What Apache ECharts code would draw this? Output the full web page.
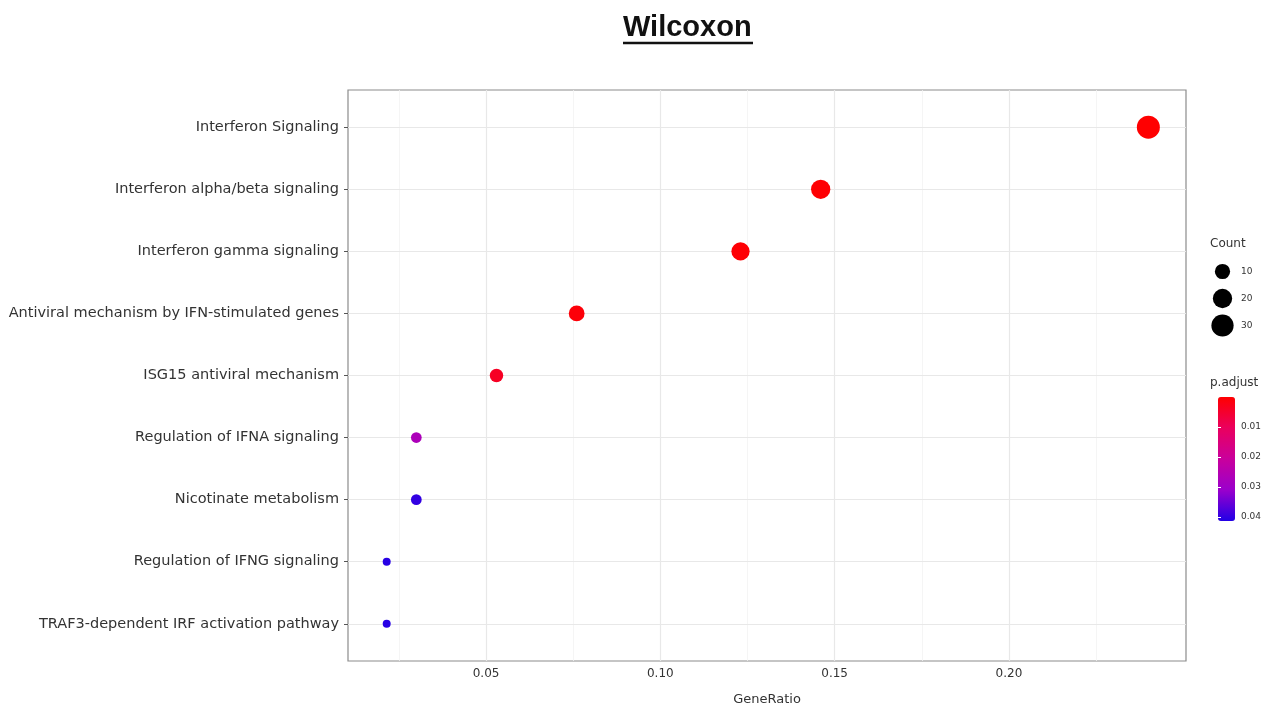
<!DOCTYPE html>
<html>
<head>
<meta charset="utf-8">
<title>Wilcoxon</title>
<script src="https://cdn.jsdelivr.net/npm/echarts@6/dist/echarts.min.js"></script>
<style>
  html, body { margin: 0; padding: 0; background: #fff; }
  #chart { width: 1275px; height: 707px; }
</style>
</head>
<body>
<div id="chart"></div>
<script>
// pathways, top to bottom
const categories = [
  'Interferon Signaling',
  'Interferon alpha/beta signaling',
  'Interferon gamma signaling',
  'Antiviral mechanism by IFN-stimulated genes',
  'ISG15 antiviral mechanism',
  'Regulation of IFNA signaling',
  'Nicotinate metabolism',
  'Regulation of IFNG signaling',
  'TRAF3-dependent IRF activation pathway'
];
const geneRatio = [0.240, 0.146, 0.123, 0.076, 0.053, 0.030, 0.030, 0.0215, 0.0215];
const counts = [33, 20, 17, 11, 7, 4, 4, 3, 3];
const pAdjust = [0.0001, 0.0003, 0.0005, 0.001, 0.004, 0.027, 0.040, 0.041, 0.041];

const xMajor = [0.05, 0.10, 0.15, 0.20];
const xMinor = [0.025, 0.075, 0.125, 0.175, 0.225];
const sizeBreaks = [10, 20, 30];
const colorBreaks = [0.01, 0.02, 0.03, 0.04];

const X_MIN = 0.0104, X_MAX = 0.2508;
const P_MIN = 0, P_MAX = 0.0414;
const TEXT = '#333';

// ggplot-like area scale: diameter grows with sqrt of rescaled count
const cMin = Math.min(...counts), cMax = Math.max(...counts);
function sizeOf(c) {
  const t = Math.max(0, (c - cMin) / (cMax - cMin));
  return 8 + 15 * Math.sqrt(t);
}

const points = geneRatio.map((r, i) => [r, i, counts[i], pAdjust[i]]);

const gridLines = [].concat(
  xMinor.map(v => ({ xAxis: v, lineStyle: { color: '#f3f3f3', width: 0.8, type: 'solid' } })),
  xMajor.map(v => ({ xAxis: v, lineStyle: { color: '#e8e8e8', width: 1.2, type: 'solid' } })),
  categories.map((c, i) => ({ yAxis: i, lineStyle: { color: '#e8e8e8', width: 1.2, type: 'solid' } }))
);

const chart = echarts.init(document.getElementById('chart'));
chart.setOption({
  animation: false,
  backgroundColor: '#fff',
  textStyle: { fontFamily: 'DejaVu Sans' },
  title: [
    {
      text: 'Wilcoxon', left: 623, top: 13, padding: 0,
      textStyle: { fontFamily: 'Liberation Sans', fontWeight: 'bold', fontSize: 29, color: '#111' }
    },
    { text: 'Count', left: 1210, top: 238, padding: 0,
      textStyle: { fontWeight: 'normal', fontSize: 12, color: TEXT } },
    { text: 'p.adjust', left: 1210, top: 377, padding: 0,
      textStyle: { fontWeight: 'normal', fontSize: 12, color: TEXT } }
  ],
  graphic: [
    { type: 'line', shape: { x1: 623, y1: 43, x2: 753, y2: 43 }, style: { stroke: '#111', lineWidth: 2.5 } }
  ],
  grid: [
    { left: 348, right: 89, top: 90, bottom: 46, show: true, backgroundColor: '#fff',
      borderColor: '#8c8c8c', borderWidth: 1.2, outerBoundsMode: 'none', containLabel: false },
    { left: 1210, top: 258, width: 25, height: 81, outerBoundsMode: 'none', containLabel: false },
    { left: 1218, top: 397, width: 17, height: 124, outerBoundsMode: 'none', containLabel: false }
  ],
  xAxis: [
    {
      gridIndex: 0, type: 'value', min: X_MIN, max: X_MAX,
      name: 'GeneRatio', nameLocation: 'middle', nameGap: 32,
      nameTextStyle: { fontSize: 13, color: TEXT },
      axisLine: { show: false },
      axisTick: { show: true, length: 4, customValues: xMajor, lineStyle: { color: '#555' } },
      axisLabel: { customValues: xMajor, margin: 7, fontSize: 12, color: TEXT,
        formatter: v => v.toFixed(2) },
      splitLine: { show: false }
    },
    { gridIndex: 1, type: 'value', min: -1, max: 1, show: false },
    { gridIndex: 2, type: 'value', min: 0, max: 1, show: false }
  ],
  yAxis: [
    {
      gridIndex: 0, type: 'value', min: -0.6, max: categories.length - 0.4, inverse: true,
      axisLine: { show: false },
      axisTick: { show: true, length: 4, customValues: categories.map((c, i) => i), lineStyle: { color: '#555' } },
      axisLabel: { customValues: categories.map((c, i) => i), margin: 9, fontSize: 14.5, color: TEXT,
        formatter: v => categories[Math.round(v)] },
      splitLine: { show: false }
    },
    {
      gridIndex: 1, type: 'category', data: sizeBreaks.map(String), inverse: true, position: 'right',
      axisLine: { show: false }, axisTick: { show: false },
      axisLabel: { margin: 6, fontSize: 9, color: TEXT }
    },
    {
      gridIndex: 2, type: 'value', min: P_MIN, max: P_MAX, inverse: true, position: 'right', z: 10,
      axisLine: { show: false },
      axisTick: { show: true, inside: true, length: 3, customValues: colorBreaks, lineStyle: { color: '#fff', width: 1 } },
      axisLabel: { customValues: colorBreaks, margin: 6, fontSize: 9, color: TEXT, formatter: v => v.toFixed(2) },
      splitLine: { show: false }
    },
    {
      gridIndex: 2, type: 'value', min: P_MIN, max: P_MAX, inverse: true, position: 'left', z: 10,
      axisLine: { show: false },
      axisTick: { show: true, inside: true, length: 3, customValues: colorBreaks, lineStyle: { color: '#fff', width: 1 } },
      axisLabel: { show: false },
      splitLine: { show: false }
    }
  ],
  visualMap: {
    type: 'continuous', seriesIndex: 1, dimension: 3,
    min: P_MIN, max: P_MAX, inverse: true, calculable: false,
    left: 1218, top: 397, itemWidth: 17, itemHeight: 124, padding: 0,
    text: null, showLabel: false,
    inRange: { color: ['#ff0000', '#ea005e', '#c9009c', '#9a00cc', '#2200e6'] }
  },
  series: [
    {
      type: 'scatter', xAxisIndex: 0, yAxisIndex: 0, data: [], z: 1, silent: true,
      markLine: { silent: true, z: 1, precision: 6, symbol: 'none', label: { show: false },
        animation: false, data: gridLines }
    },
    {
      type: 'scatter', xAxisIndex: 0, yAxisIndex: 0, z: 3,
      data: points,
      symbolSize: v => sizeOf(v[2]),
      itemStyle: { opacity: 1 }
    },
    {
      type: 'scatter', xAxisIndex: 1, yAxisIndex: 1, z: 3,
      data: sizeBreaks.map(b => [0, String(b), b]),
      symbolSize: v => sizeOf(v[2]),
      itemStyle: { color: '#000', opacity: 1 }
    }
  ]
});
</script>
</body>
</html>
